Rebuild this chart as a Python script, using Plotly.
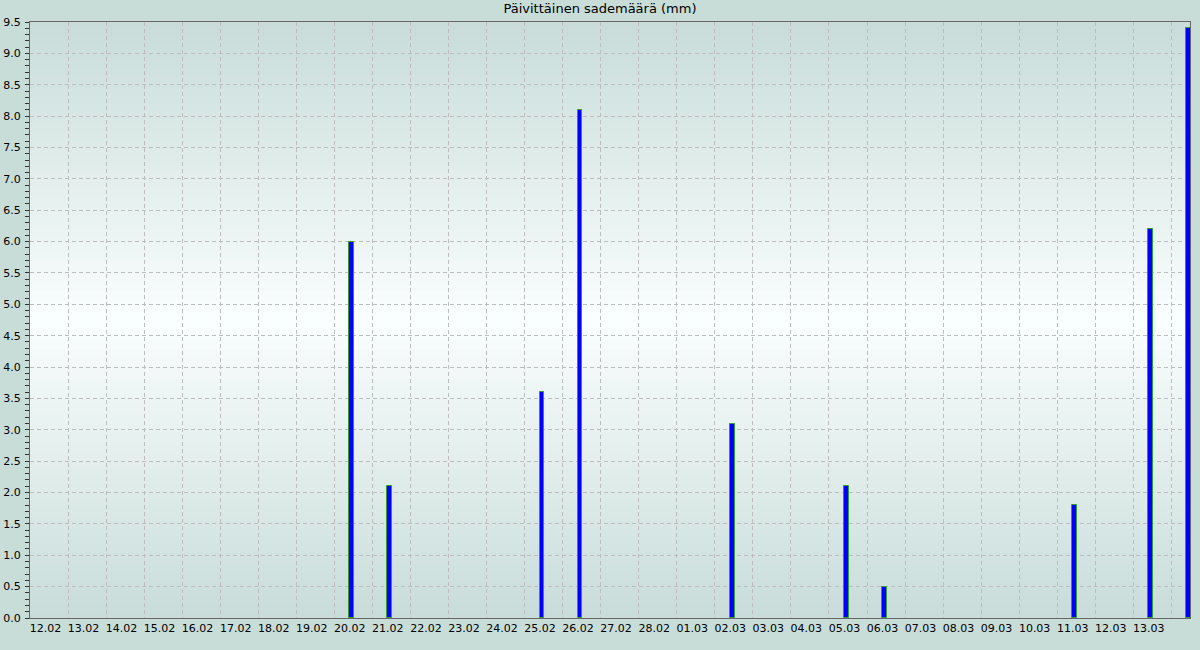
import plotly.graph_objects as go

# ---- data ----
dates = ["2025-02-12", "2025-02-13", "2025-02-14", "2025-02-15", "2025-02-16", "2025-02-17",
         "2025-02-18", "2025-02-19", "2025-02-20", "2025-02-21", "2025-02-22", "2025-02-23",
         "2025-02-24", "2025-02-25", "2025-02-26", "2025-02-27", "2025-02-28", "2025-03-01",
         "2025-03-02", "2025-03-03", "2025-03-04", "2025-03-05", "2025-03-06", "2025-03-07",
         "2025-03-08", "2025-03-09", "2025-03-10", "2025-03-11", "2025-03-12", "2025-03-13",
         "2025-03-14"]
rain_mm = [0, 0, 0, 0, 0, 0,
           0, 0, 6.0, 2.1, 0, 0,
           0, 3.6, 8.1, 0, 0, 0,
           3.1, 0, 0, 2.1, 0.5, 0,
           0, 0, 0, 1.8, 0, 6.2,
           9.4]
tick_labels = ["12.02", "13.02", "14.02", "15.02", "16.02", "17.02", "18.02", "19.02", "20.02",
               "21.02", "22.02", "23.02", "24.02", "25.02", "26.02", "27.02", "28.02", "01.03",
               "02.03", "03.03", "04.03", "05.03", "06.03", "07.03", "08.03", "09.03", "10.03",
               "11.03", "12.03", "13.03"]
title_text = "Päivittäinen sademäärä (mm)"

# ---- build ----
bar_x = [d + " 11:00" for d in dates]
bar_y = [v if v > 0 else None for v in rain_mm]
tick_vals = [d + " 11:00" for d in dates[:len(tick_labels)]]

FONT = "DejaVu Sans"
GRID = "#bdbdbd"

fig = go.Figure()
fig.add_trace(go.Bar(
    x=bar_x, y=bar_y,
    width=0.125 * 86400000,
    marker=dict(color="#0000ff", line=dict(color="#2e9e2e", width=1)),
    showlegend=False,
))

# vertical gradient plot background
def lerp(a, b, t):
    return tuple(round(a[i] + (b[i] - a[i]) * t) for i in range(3))

edge = (200, 220, 217)
mid = (250, 254, 254)
n = 80
shapes = []
for i in range(n):
    y0 = i / n
    y1 = (i + 1) / n
    c = (y0 + y1) / 2
    t = 1 - abs(c - 0.5) / 0.5
    col = lerp(edge, mid, t)
    shapes.append(dict(type="rect", xref="paper", yref="paper", x0=0, x1=1, y0=y0, y1=y1 + 0.002,
                       fillcolor="rgb(%d,%d,%d)" % col, line=dict(width=0), layer="below"))

fig.update_layout(
    width=1200, height=650,
    margin=dict(l=30, r=10, t=22, b=32, autoexpand=False),
    paper_bgcolor="#c8dcd8",
    plot_bgcolor="#e6f0ee",
    shapes=shapes,
    font=dict(family=FONT, size=11, color="#000000"),
    title=dict(text=title_text, x=0.5, xref="container", xanchor="center",
               y=1 - 4 / 650, yref="container", yanchor="top", automargin=False,
               font=dict(family=FONT, size=13, color="#000000")),
    bargap=0,
)

fig.update_xaxes(
    type="date", automargin=False,
    range=["2025-02-12 00:00", "2025-03-14 11:45"],
    tickmode="array", tickvals=tick_vals, ticktext=tick_labels,
    ticks="", showgrid=False, ticklabelshift=-2,
    minor=dict(dtick=86400000, tick0="2025-02-12", showgrid=True, gridcolor=GRID,
               griddash="4px,3px", gridwidth=1, ticks=""),
    showline=True, linecolor="#666666", linewidth=1, mirror=True,
    zeroline=False, fixedrange=True,
)

fig.update_yaxes(
    range=[0, 9.5], dtick=0.5, tick0=0, tickformat=".1f", automargin=False,
    ticks="outside", ticklen=4, tickcolor="#333333", tickwidth=1,
    showgrid=True, gridcolor=GRID, griddash="4px,3px", gridwidth=1,
    minor=dict(dtick=0.1, ticks="outside", ticklen=4, tickcolor="#333333", showgrid=False),
    showline=True, linecolor="#666666", linewidth=1, mirror=True,
    zeroline=False, ticklabelstandoff=2, fixedrange=True,
)

fig.write_html("out.html", config={"displayModeBar": False})

# remove the browser's default body margin so the figure fills the window exactly
with open("out.html", "r", encoding="utf-8") as f:
    html = f.read()
html = html.replace("<body>", '<body style="margin:0;padding:0;overflow:hidden">', 1)
with open("out.html", "w", encoding="utf-8") as f:
    f.write(html)
